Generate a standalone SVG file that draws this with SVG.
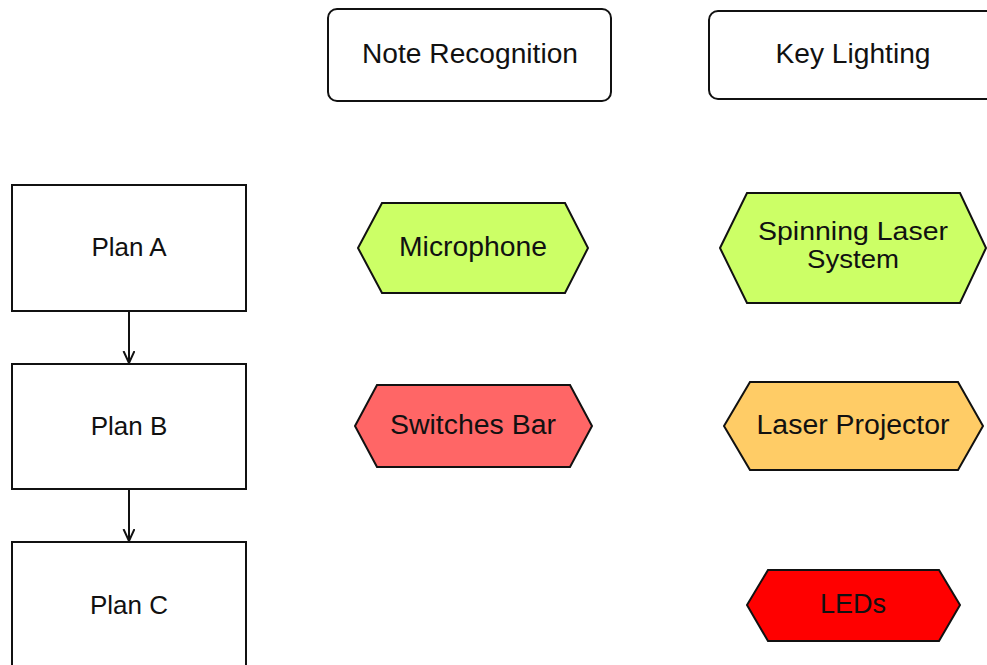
<svg xmlns="http://www.w3.org/2000/svg" width="987" height="665" viewBox="0 0 987 665">
<defs>
<style>
.box{fill:#fff;stroke:#111;stroke-width:2}
.hex{stroke:#111;stroke-width:2;stroke-linejoin:miter}
.t{font-family:"Liberation Sans",Arial,Helvetica,sans-serif;font-size:27px;fill:#111;text-anchor:middle}
.pt{font-family:"Liberation Sans",Arial,Helvetica,sans-serif;font-size:26px;fill:#111;text-anchor:middle}
.st{font-family:"Liberation Sans",Arial,Helvetica,sans-serif;font-size:25px;fill:#111;text-anchor:middle}
.edge{stroke:#111;stroke-width:2;fill:none}
.green{fill:#ccff66}
</style>
<marker id="arr" markerUnits="userSpaceOnUse" markerWidth="14" markerHeight="14" refX="12" refY="6" orient="auto">
<path d="M0,0.5 L12,6 L0,11.5" fill="none" stroke="#111" stroke-width="2"/>
</marker>
</defs>
<rect width="987" height="665" fill="#fff"/>

<g id="note-recognition">
<rect class="box" x="328" y="9" width="283" height="92" rx="9"/>
<text class="t" x="470" y="63" textLength="216" lengthAdjust="spacingAndGlyphs">Note Recognition</text>
</g>
<g id="key-lighting">
<rect class="box" x="709" y="11" width="290" height="88" rx="9"/>
<text class="t" x="853" y="63" textLength="155" lengthAdjust="spacingAndGlyphs">Key Lighting</text>
</g>

<g id="plan-a">
<rect class="box" x="12" y="185" width="234" height="126"/>
<text class="pt" x="129" y="256">Plan A</text>
</g>
<g id="plan-b">
<rect class="box" x="12" y="364" width="234" height="125"/>
<text class="pt" x="129" y="435">Plan B</text>
</g>
<g id="plan-c">
<rect class="box" x="12" y="542" width="234" height="140"/>
<text class="pt" x="129" y="614">Plan C</text>
</g>

<g id="microphone">
<polygon class="hex green" points="358,248 382,203 565,203 588,248 565,293 382,293"/>
<text class="t" x="473" y="256" textLength="148" lengthAdjust="spacingAndGlyphs">Microphone</text>
</g>
<g id="switches-bar">
<polygon class="hex" fill="#ff6666" points="355,426 377,385 570,385 592,426 570,467 377,467"/>
<text class="t" x="473" y="434" textLength="166" lengthAdjust="spacingAndGlyphs">Switches Bar</text>
</g>

<g id="spinning-laser-system">
<polygon class="hex green" points="720,248 747,193 960,193 986,248 960,303 747,303"/>
<text class="st" x="853" y="240" textLength="190" lengthAdjust="spacingAndGlyphs">Spinning Laser</text>
<text class="st" x="853" y="268" textLength="92" lengthAdjust="spacingAndGlyphs">System</text>
</g>
<g id="laser-projector">
<polygon class="hex" fill="#ffcc66" points="724,426 750,382 958,382 983,426 958,470 750,470"/>
<text class="t" x="853" y="434" textLength="193" lengthAdjust="spacingAndGlyphs">Laser Projector</text>
</g>
<g id="leds">
<polygon class="hex" fill="#ff0000" points="747,605 768,570 939,570 960,605 939,641 768,641"/>
<text class="t" x="853" y="613" fill="#1a0000">LEDs</text>
</g>

<g id="connectors">
<line class="edge" x1="129" y1="311" x2="129" y2="363" marker-end="url(#arr)"/>
<line class="edge" x1="129" y1="489" x2="129" y2="541" marker-end="url(#arr)"/>
</g>
</svg>
